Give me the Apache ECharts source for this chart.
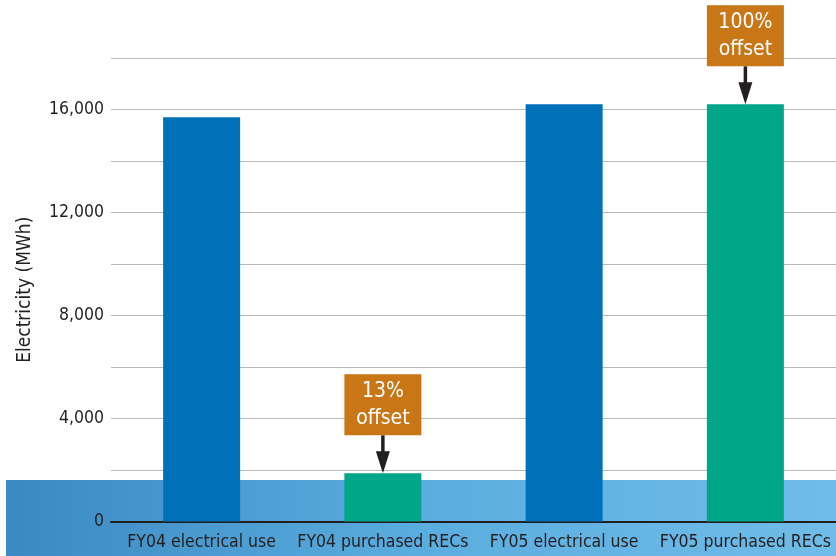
<!DOCTYPE html>
<html>
<head>
<meta charset="utf-8">
<script src="https://cdn.jsdelivr.net/npm/echarts@6/dist/echarts.min.js"></script>
<style>
html,body{margin:0;padding:0;background:#fff;}
#main{width:836px;height:556px;}
</style>
</head>
<body>
<div id="main"></div>
<script>
const categories = ['FY04 electrical use', 'FY04 purchased RECs', 'FY05 electrical use', 'FY05 purchased RECs'];
const electricityMWh = [15700, 1870, 16200, 16200];
const offsetNotes = [null, '13%\noffset', null, '100%\noffset'];
const yTickLabels = [0, 4000, 8000, 12000, 16000];

const FONT = "'Liberation Sans Narrow', 'DejaVu Sans Condensed', 'Roboto', sans-serif";
const BLUE = '#0070b8', GREEN = '#00a688', ORANGE = '#c97617', INK = '#231f20';

const chart = echarts.init(document.getElementById('main'), null, {renderer: 'canvas'});

const option = {
  animation: false,
  backgroundColor: '#ffffff',
  grid: {left: 111, right: 0, top: 58, bottom: 34.5, containLabel: false},
  xAxis: {
    type: 'category',
    data: categories,
    axisLine: {show: true, lineStyle: {color: INK, width: 2}},
    axisTick: {show: false},
    axisLabel: {color: INK, fontFamily: FONT, fontSize: 17.5, margin: 12, interval: 0}
  },
  yAxis: {
    type: 'value',
    min: 0, max: 18000, interval: 2000,
    name: 'Electricity (MWh)',
    nameLocation: 'middle',
    nameGap: 76,
    nameRotate: 90,
    nameTextStyle: {color: INK, fontFamily: FONT, fontSize: 19},
    axisLine: {show: false},
    axisTick: {show: false},
    splitLine: {show: true, lineStyle: {color: '#b8b8b8', width: 1.2}},
    axisLabel: {
      color: INK, fontFamily: FONT, fontSize: 17.5, margin: 7,
      formatter: v => yTickLabels.indexOf(v) >= 0 ? v.toLocaleString('en-US') : ''
    }
  },
  series: [{
    type: 'bar',
    barWidth: 77,
    data: electricityMWh.map((v, i) => ({value: v, itemStyle: {color: i % 2 ? GREEN : BLUE}})),
    z: 2
  }],
  graphic: {elements: [{
    type: 'rect', z: -100, silent: true,
    shape: {x: 6, y: 480, width: 830, height: 76},
    style: {fill: new echarts.graphic.LinearGradient(0, 0, 1, 0, [
      {offset: 0, color: '#3b89c1'}, {offset: 0.5, color: '#5aaddf'}, {offset: 1, color: '#70bce8'}
    ])}
  }]}
};
chart.setOption(option);

// annotations placed via the chart's own scales
const ann = [];
offsetNotes.forEach((note, i) => {
  if (!note) return;
  const p = chart.convertToPixel({seriesIndex: 0}, [i, electricityMWh[i]]);
  const cx = p[0], tipY = p[1];
  const boxH = 61, boxW = 77, gap = 38, headH = 22, headW = 14;
  const boxBottom = tipY - gap;
  ann.push({type: 'rect', z: 100, shape: {x: cx - boxW / 2, y: boxBottom - boxH, width: boxW, height: boxH}, style: {fill: ORANGE}});
  ann.push({type: 'text', z: 101, style: {text: note, x: cx, y: boxBottom - boxH / 2, align: 'center', verticalAlign: 'middle',
    fill: '#ffffff', font: "21px " + FONT, lineHeight: 27}});
  ann.push({type: 'line', z: 100, shape: {x1: cx, y1: boxBottom, x2: cx, y2: tipY - headH + 2}, style: {stroke: INK, lineWidth: 3.5}});
  ann.push({type: 'polygon', z: 100, shape: {points: [[cx - headW / 2, tipY - headH], [cx + headW / 2, tipY - headH], [cx, tipY]]}, style: {fill: INK}});
});
chart.setOption({graphic: {elements: option.graphic.elements.concat(ann)}});
</script>
</body>
</html>
